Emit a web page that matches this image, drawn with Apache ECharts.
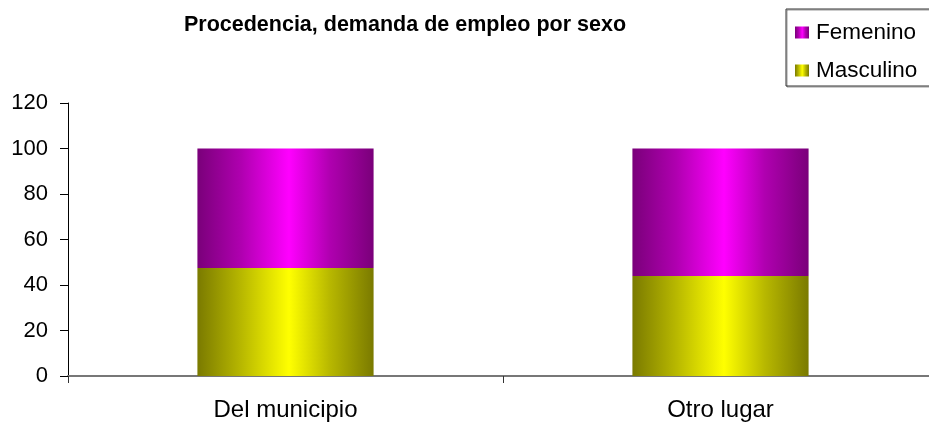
<!DOCTYPE html>
<html>
<head>
  <meta charset="utf-8">
  <title>Procedencia</title>
  <script src="https://cdn.jsdelivr.net/npm/echarts@6/dist/echarts.min.js"></script>
  <style>body{margin:0;background:#fff;}</style>
</head>
<body>
<div id="main" style="width:929px;height:423px;"></div>
<script type="text/javascript">
  var categorias = ['Del municipio', 'Otro lugar'];
  var masculino = [47.5, 44];
  var femenino = [52.5, 56];
  var ticksY = [0, 20, 40, 60, 80, 100, 120];

  function degradado(oscuro, medio, claro) {
    return new echarts.graphic.LinearGradient(0, 0, 1, 0, [
      { offset: 0, color: oscuro },
      { offset: 0.25, color: medio },
      { offset: 0.52, color: claro },
      { offset: 0.75, color: medio },
      { offset: 1, color: oscuro }
    ]);
  }

  var myChart = echarts.init(document.getElementById('main'));
  var fuente = 'Liberation Sans';

  var option = {
    animation: false,
    title: {
      text: 'Procedencia, demanda de empleo por sexo',
      left: 400,
      textAlign: 'center',
      top: 9,
      textStyle: { fontFamily: fuente, fontSize: 21.5, fontWeight: 'bold', color: '#000' }
    },
    legend: {
      orient: 'vertical',
      left: 786,
      top: 9,
      padding: [12, 20, 4, 9],
      itemGap: 15,
      itemWidth: 14,
      itemHeight: 12,
      borderColor: '#333',
      borderWidth: 1,
      shadowColor: 'rgba(0,0,0,0.4)',
      shadowOffsetX: 1,
      shadowOffsetY: 1,
      icon: 'rect',
      data: ['Femenino', 'Masculino'],
      textStyle: { fontFamily: fuente, fontSize: 22.5, color: '#000', padding: [0, 0, 0, 2] }
    },
    grid: { left: 68, width: 870, top: 103, bottom: 47, outerBoundsMode: 'none', containLabel: false },
    xAxis: {
      type: 'category',
      data: categorias,
      axisLine: { lineStyle: { color: '#777', width: 2 } },
      axisTick: { show: true, interval: 0, length: 7, lineStyle: { color: '#333' } },
      axisLabel: { fontFamily: fuente, fontSize: 24, color: '#000', margin: 22 }
    },
    yAxis: {
      type: 'value',
      min: ticksY[0],
      max: ticksY[ticksY.length - 1],
      interval: 20,
      splitLine: { show: false },
      axisLine: { show: true, lineStyle: { color: '#000', width: 1 } },
      axisTick: { show: true, length: 8, lineStyle: { color: '#000' } },
      axisLabel: { fontFamily: fuente, fontSize: 22, color: '#000', margin: 20 }
    },
    series: [
      {
        name: 'Masculino',
        type: 'bar',
        stack: 'total',
        barWidth: '40.5%',
        data: masculino,
        itemStyle: { color: degradado('#7a7a00', '#b8b800', '#ffff00') }
      },
      {
        name: 'Femenino',
        type: 'bar',
        stack: 'total',
        barWidth: '40.5%',
        data: femenino,
        itemStyle: { color: degradado('#7a007a', '#b000b0', '#ff00ff') }
      }
    ]
  };

  myChart.setOption(option);
</script>
</body>
</html>
